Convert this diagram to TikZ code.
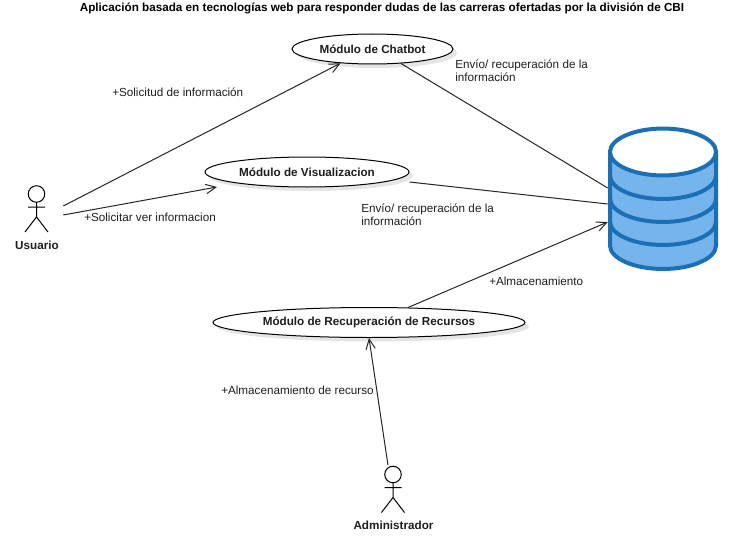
\documentclass[tikz,border=0pt]{standalone}
\usepackage{fontspec}
\setmainfont{Liberation Sans}
\usetikzlibrary{shapes.geometric,shadows,arrows.meta}
\definecolor{DBBlue}{RGB}{117,181,236}
\definecolor{DBLine}{RGB}{26,111,181}
\definecolor{TextGray}{RGB}{30,30,30}

\tikzset{
    x=0.75pt, y=-0.75pt,
    usecase/.style={
        draw, ellipse, line width=0.75pt, fill=white, minimum height=22.5pt, inner sep=0pt,
        font=\fontsize{8.77}{11}\selectfont\bfseries, text=TextGray,
        drop shadow={shadow xshift=3pt, shadow yshift=-3pt, fill=black, opacity=0.1}
    },
    actorbox/.style={minimum width=39.75pt, minimum height=34.5pt, inner sep=0pt},
    actorname/.style={font=\fontsize{8.77}{11}\selectfont\bfseries, text=TextGray},
    edgelabel/.style={anchor=west, align=left, inner sep=0pt, text=TextGray,
        font=\fontsize{8.77}{9.75}\selectfont},
    link/.style={line width=0.75pt, draw=black!85},
    arrowlink/.style={link, -{Straight Barb[length=7.5pt, width=7pt]}},
    dbstroke/.style={line width=3pt, draw=DBLine},
    actorfig/.pic={
        \draw[line width=0.75pt] (0,-15) circle[radius=6.2pt];
        \draw[line width=0.75pt] (0,-7) -- (0,8) (-8.5,-2) -- (8.5,-2)
            (-11.5,23) -- (0,8) -- (11.5,23);
    }
}

\begin{document}
\begin{tikzpicture}
    \useasboundingbox (0,0) rectangle (742,560);
    \fill[white] (0,0) rectangle (742,560);

    \node[font=\fontsize{8.77}{11}\selectfont\bfseries, text=black] (title) at (382,8)
        {Aplicación basada en tecnologías web para responder dudas de las carreras ofertadas por la división de CBI};

    \node[usecase, minimum width=120.75pt] (chatbot) at (372.5,49) {Módulo de Chatbot};
    \node[usecase, minimum width=153pt] (visualizacion) at (307,172) {Módulo de Visualizacion};
    \node[usecase, minimum width=234pt] (recuperacion) at (369,322.5) {Módulo de Recuperación de Recursos};

    \node[actorbox] (usuario) at (36.5,209) {};
    \pic at (36.5,209) {actorfig};
    \node[actorname] (usuarioName) at (37,245) {Usuario};
    \node[actorbox] (admin) at (393,489.5) {};
    \pic at (393,489.5) {actorfig};
    \node[actorname] (adminName) at (393.5,525) {Administrador};

    \node[minimum width=82.5pt, minimum height=108pt, inner sep=0pt] (db) at (663,199) {};
    \draw[dbstroke, fill=DBBlue] (610,152) -- (610,245.5)
        arc[start angle=180, end angle=360, x radius=39.75pt, y radius=17.6pt] -- (716,152) -- cycle;
    \foreach \y in {175.5, 198.5, 221.5} {
        \draw[dbstroke] (610,\y) arc[start angle=180, end angle=360, x radius=39.75pt, y radius=17.6pt];
    }
    \draw[dbstroke, fill=white] (663,152) ellipse[x radius=39.75pt, y radius=17.6pt];

    \coordinate (visualizacionTip) at (217,187);
    \draw[arrowlink] ([shift={(0,-3)}]usuario.east) -- (chatbot.204);
    \draw[arrowlink] ([shift={(0,6)}]usuario.east) -- (visualizacionTip);
    \draw[link] (chatbot.-27) -- ([shift={(0,-11)}]db.west);
    \draw[link] ([shift={(0,10)}]visualizacion.east) -- ([shift={(0,5)}]db.west);
    \draw[arrowlink] (recuperacion.21) -- ([shift={(0,23)}]db.west);
    \draw[arrowlink] ([shift={(-5,-1)}]admin.north) -- (recuperacion.south);

    \node[edgelabel] (solicitud) at (112,92) {+Solicitud de información};
    \node[edgelabel] (solicitar) at (84,217.5) {+Solicitar ver informacion};
    \node[edgelabel] (envioA) at (455,70.5) {Envío/ recuperación de la\\información};
    \node[edgelabel] (envioB) at (361,214.5) {Envío/ recuperación de la\\información};
    \node[edgelabel] (almacen) at (489,281) {+Almacenamiento};
    \node[edgelabel] (almacenRec) at (221,390) {+Almacenamiento de recurso};
\end{tikzpicture}
\end{document}
